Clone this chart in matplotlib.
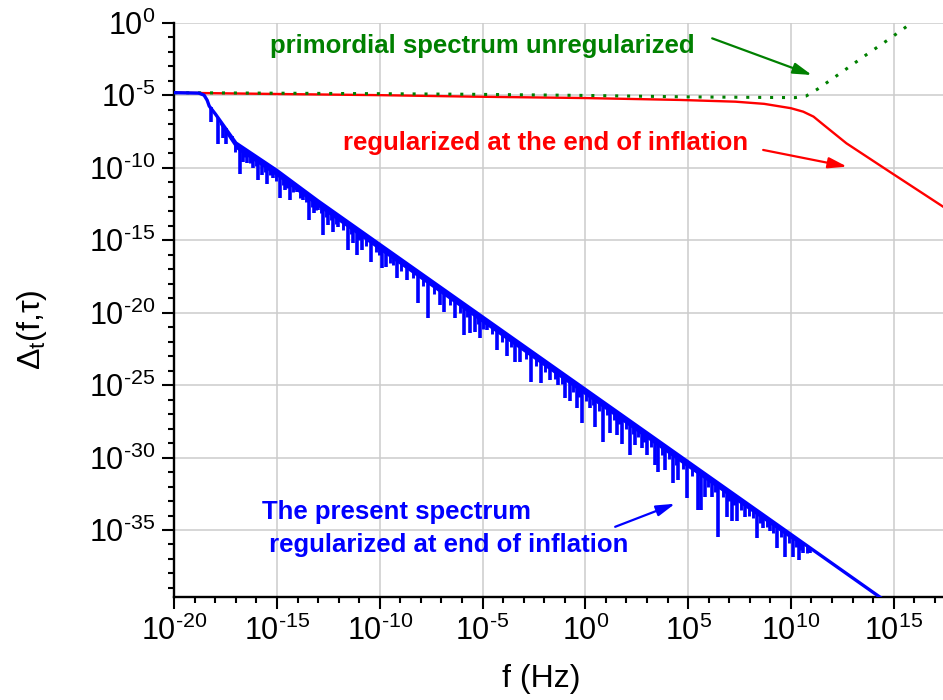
import numpy as np
import matplotlib
matplotlib.use('Agg')
import matplotlib.pyplot as plt
from matplotlib import ticker

plt.rcParams['font.family'] = ['Liberation Sans', 'DejaVu Sans']
plt.rcParams['mathtext.fontset'] = 'custom'
plt.rcParams['mathtext.rm'] = 'Liberation Sans'
plt.rcParams['mathtext.it'] = 'Liberation Sans:italic'
plt.rcParams['mathtext.bf'] = 'Liberation Sans:bold'

# all values are log10
# regularized at the end of inflation (red)
red_logf = [-20.0, -15.0, -10.0, -5.6, 0.0, 4.6, 7.3, 8.7, 10.0, 10.6, 11.1, 11.6, 12.7, 14.8, 17.4]
red_logd = [-4.83, -4.92, -5.00, -5.10, -5.20, -5.33, -5.45, -5.60, -5.90, -6.14, -6.48, -7.06, -8.32, -10.28, -12.69]

# primordial spectrum, unregularized (green dotted)
green_logf = [-20.0, -10.0, -5.6, 0.0, 5.0, 10.2, 10.74, 11.29, 12.44, 13.58, 14.72, 15.85]
green_logd = [-4.83, -4.90, -4.94, -5.02, -5.12, -5.17, -5.06, -4.59, -3.45, -2.30, -1.19, -0.04]

# present spectrum (blue): upper edge of the band
blue_logf = [-20.0, -18.8, -18.55, -18.4, -18.3, -18.0, -17.0, -15.0, -13.0, -10.0, -8.0, -5.0,
             -2.5, 0.0, 2.5, 5.0, 7.5, 10.0, 11.2, 14.2, 15.5]
blue_logd = [-4.83, -4.86, -5.0, -5.35, -5.75, -6.3, -8.3, -10.2, -12.3, -15.3, -17.3, -20.3,
             -22.8, -25.3, -27.8, -30.3, -32.8, -35.3, -36.5, -39.5, -40.8]

# dense, unresolved oscillations of the blue spectrum (band under the upper edge)
band_logf = [-17.8, -17.0, -15.0, -13.0, -10.0, -5.0, 0.0, 5.0, 10.0, 11.1]
band_hi = [-6.7, -8.3, -10.2, -12.3, -15.3, -20.3, -25.3, -30.3, -35.3, -36.4]
band_lo = [-7.0, -8.7, -10.6, -12.7, -15.7, -20.7, -25.7, -30.7, -35.6, -36.4]

# deep downward spikes of the blue spectrum
spike_logf = [-18.23, -17.86, -17.62, -17.48, -17.21, -16.80, -16.64, -16.45, -16.16, -15.91,
              -15.75, -15.47, -15.21, -14.86, -14.61, -14.37, -14.04, -13.72, -13.43, -13.20,
              -12.99, -12.75, -12.51, -12.26, -12.02, -11.53, -11.32, -11.12, -10.88,
              -10.43, -9.91, -9.71, -9.18, -8.69, -8.13, -7.64, -7.07, -6.86, -6.34,
              -5.89, -5.61, -5.37, -5.12, -4.80, -4.31, -3.82, -3.42, -3.18, -2.64,
              -2.16, -1.72, -1.31, -0.99, -0.74, -0.42, -0.15, 0.23, 0.47, 0.88,
              1.20, 1.53, 1.77, 2.18, 2.42, 2.75, 2.99, 3.39, 3.55, 3.88,
              4.28, 4.53, 4.93, 5.47,
              5.63, 5.83, 6.15, 6.47, 6.88, 7.12, 7.37, 7.77, 8.34, 8.66,
              8.99, 9.31, 9.72, 10.12, 10.37, 10.61, 10.93]
spike_top = [-5.85, -6.56, -7.04, -7.29, -7.84, -8.47, -8.62, -8.80, -9.08, -9.31,
             -9.47, -9.72, -9.97, -10.34, -10.61, -10.88, -11.25, -11.61, -11.93, -12.19,
             -12.42, -12.67, -12.92, -13.16, -13.41, -13.77, -13.98, -14.18, -14.42,
             -14.87, -15.39, -15.59, -16.12, -16.61, -17.17, -17.66, -18.23, -18.44, -18.96,
             -19.41, -19.69, -19.93, -20.18, -20.50, -20.99, -21.48, -21.88, -22.12, -22.66,
             -23.14, -23.58, -23.99, -24.31, -24.56, -24.88, -25.15, -25.53, -25.77, -26.18,
             -26.50, -26.83, -27.07, -27.48, -27.72, -28.05, -28.29, -28.69, -28.85, -29.18,
             -29.58, -29.83, -30.23, -30.77,
             -30.93, -31.13, -31.45, -31.77, -32.18, -32.42, -32.67, -33.07, -33.64, -33.96,
             -34.29, -34.61, -35.02, -35.42, -35.67, -35.91, -36.23]
spike_bottom = [-6.83, -8.39, -7.97, -8.39, -8.09, -10.46, -9.59, -9.70, -10.04, -10.85,
                -10.50, -11.14, -10.73, -12.11, -11.54, -12.23, -11.66, -12.23, -13.61, -13.14,
                -12.92, -14.64, -13.95, -14.41, -14.07, -15.68, -15.21, -16.02, -15.68,
                -16.52, -16.90, -16.83, -17.63, -17.74, -19.35, -20.34, -19.47, -19.97, -20.39,
                -21.54, -21.42, -21.31, -21.72, -21.19, -22.57, -23.03, -23.38, -23.38, -24.76,
                -24.87, -24.64, -24.99, -25.90, -26.09, -26.55, -27.63, -26.59, -27.86, -28.94,
                -28.32, -28.43, -29.08, -29.81, -29.12, -29.35, -29.81, -30.50, -30.97, -30.85,
                -31.77, -31.54, -32.80, -33.61,
                -33.61, -32.69, -32.69, -35.45, -34.07, -34.41, -34.41, -34.07, -35.56, -34.87,
                -35.10, -36.25, -36.83, -36.83, -37.06, -36.59, -36.59]

# short spikes (the hairy fringe of the blue band)
short_logf = [-17.05, -16.55, -16.30, -16.03, -15.60, -15.35, -15.05, -14.72, -14.50, -14.20,
              -13.88, -13.57, -13.30, -13.10, -12.87, -12.63, -12.38, -12.14, -11.80, -11.42,
              -11.00, -10.65, -10.20, -10.05, -9.50, -9.35, -8.95, -8.40, -7.90, -7.35,
              -6.60, -6.10, -5.74, -5.24, -4.96, -4.55, -4.07, -3.62, -2.90, -2.40,
              -1.94, -1.50, -1.15, -0.58, -0.30, 0.05, 0.35, 0.68, 1.05, 1.37,
              1.65, 1.98, 2.30, 2.58, 2.87, 3.20, 3.72, 4.08, 4.40, 4.73,
              5.20, 5.99, 6.31, 6.68, 7.00, 7.25, 7.57, 7.97, 8.15, 8.50,
              8.82, 9.15, 9.50, 9.92, 10.25, 10.50, 10.78]
short_top = [-8.25, -8.72, -8.95, -9.20, -9.60, -9.85, -10.15, -10.50, -10.72, -11.03,
             -11.37, -11.70, -11.98, -12.20, -12.43, -12.67, -12.92, -13.16, -13.50, -13.88,
             -14.30, -14.65, -15.10, -15.25, -15.80, -15.95, -16.35, -16.90, -17.40, -17.95,
             -18.70, -19.20, -19.56, -20.06, -20.34, -20.75, -21.23, -21.68, -22.40, -22.90,
             -23.36, -23.80, -24.15, -24.72, -25.00, -25.35, -25.65, -25.98, -26.35, -26.67,
             -26.95, -27.28, -27.60, -27.88, -28.17, -28.50, -29.02, -29.38, -29.70, -30.03,
             -30.50, -31.29, -31.61, -31.98, -32.30, -32.55, -32.87, -33.27, -33.45, -33.80,
             -34.12, -34.45, -34.80, -35.22, -35.55, -35.80, -36.08]
short_bottom = [-8.90, -9.30, -9.70, -9.90, -10.30, -10.50, -10.90, -11.20, -11.40, -11.70,
                -12.10, -12.40, -12.70, -12.90, -13.10, -13.40, -13.60, -13.90, -14.30, -14.60,
                -15.00, -15.40, -15.80, -16.00, -16.60, -16.70, -17.10, -17.60, -18.20, -18.70,
                -19.50, -20.00, -20.30, -20.80, -21.10, -21.50, -22.00, -22.40, -23.20, -23.70,
                -24.10, -24.60, -24.90, -25.50, -25.80, -26.10, -26.40, -26.80, -27.10, -27.40,
                -27.70, -28.00, -28.40, -28.60, -28.90, -29.30, -29.80, -30.10, -30.50, -30.80,
                -31.30, -32.00, -32.40, -32.70, -33.00, -33.30, -33.60, -34.00, -34.20, -34.50,
                -34.80, -35.20, -35.50, -35.90, -36.20, -36.40, -36.60]

x_major = [-20, -15, -10, -5, 0, 5, 10, 15]
y_major = [0, -5, -10, -15, -20, -25, -30, -35]

BLUE = '#0000ff'
RED = '#ff0000'
GREEN = '#008000'

fig = plt.figure(figsize=(9.43, 7.0), dpi=100)
ax = fig.add_axes([0.1848, 0.1476, 0.8152, 0.82])
ax.set_xscale('log')
ax.set_yscale('log')

ax.plot(10.0 ** np.array(red_logf), 10.0 ** np.array(red_logd), color=RED, lw=1.7, zorder=3)
ax.plot(10.0 ** np.array(green_logf), 10.0 ** np.array(green_logd), color=GREEN, lw=2.2,
        linestyle=(0, (1.0, 2.9)), zorder=4)
ax.fill_between(10.0 ** np.array(band_logf), 10.0 ** np.array(band_lo), 10.0 ** np.array(band_hi),
                color=BLUE, lw=0, zorder=5)
ax.vlines(10.0 ** np.array(short_logf), 10.0 ** np.array(short_bottom), 10.0 ** np.array(short_top),
          color=BLUE, lw=2.1, zorder=5)
ax.vlines(10.0 ** np.array(spike_logf), 10.0 ** np.array(spike_bottom), 10.0 ** np.array(spike_top),
          color=BLUE, lw=2.6, zorder=5)
ax.plot(10.0 ** np.array(blue_logf), 10.0 ** np.array(blue_logd), color=BLUE, lw=2.4, zorder=5)

ax.set_xlim(1e-20, 10 ** 17.4)
ax.set_ylim(10 ** -39.6, 1.0)

ax.xaxis.set_major_locator(ticker.FixedLocator(10.0 ** np.array(x_major)))
ax.yaxis.set_major_locator(ticker.FixedLocator(10.0 ** np.array(y_major)))
ax.xaxis.set_minor_locator(ticker.FixedLocator(10.0 ** np.arange(-20, 18)))
ax.yaxis.set_minor_locator(ticker.FixedLocator(10.0 ** np.arange(-39, 1)))


def exp_label(v, pos):
    e = int(round(np.log10(v)))
    if e < 0:
        return r'$\mathregular{10^{\text{-}%d}}$' % (-e)
    return r'$\mathregular{10^{%d}}$' % e


fmt = ticker.FuncFormatter(exp_label)
ax.xaxis.set_major_formatter(fmt)
ax.yaxis.set_major_formatter(fmt)
ax.xaxis.set_minor_formatter(ticker.NullFormatter())
ax.yaxis.set_minor_formatter(ticker.NullFormatter())

ax.tick_params(which='major', length=8.6, width=1.5, labelsize=22, pad=5)
ax.tick_params(which='minor', length=4.3, width=1.5)
for s in ['top', 'right']:
    ax.spines[s].set_visible(False)
for s in ['left', 'bottom']:
    ax.spines[s].set_linewidth(1.7)
ax.grid(True, which='major', color='#cccccc', lw=1.1, zorder=0)
ax.set_axisbelow(True)

fig.text(541 / 943, 1 - 679 / 700, 'f (Hz)', fontsize=23, ha='center', va='center')
fig.text(32 / 943, 1 - 330 / 700, r'$\mathregular{\Delta_t(f{,}\tau)}$', fontsize=23,
         rotation=90, ha='center', va='center')

# annotations (positions in data coordinates, log10 values)
ax.text(10 ** -15.34, 10 ** -2.09, 'primordial spectrum unregularized', color=GREEN,
        fontsize=18.5, fontweight='bold', ha='left', va='baseline')
ax.text(10 ** -11.79, 10 ** -8.78, 'regularized at the end of inflation', color=RED,
        fontsize=18.5, fontweight='bold', ha='left', va='baseline')
ax.text(10 ** -15.75, 10 ** -34.25, 'The present spectrum', color=BLUE,
        fontsize=18.5, fontweight='bold', ha='left', va='baseline')
ax.text(10 ** -15.75, 10 ** -36.55, ' regularized at end of inflation', color=BLUE,
        fontsize=18.5, fontweight='bold', ha='left', va='baseline')

arrow = '-|>,head_length=0.75,head_width=0.22'
for (x0, y0, x1, y1, c) in [(6.17, -1.08, 11.02, -3.61, GREEN),
                            (8.65, -8.78, 12.73, -9.93, RED),
                            (1.45, -34.78, 4.36, -33.19, BLUE)]:
    ax.annotate('', xy=(10 ** x1, 10 ** y1), xytext=(10 ** x0, 10 ** y0),
                arrowprops=dict(arrowstyle=arrow, color=c, lw=1.6, mutation_scale=15,
                                shrinkA=0, shrinkB=0))

fig.savefig('out.png', dpi=100)
